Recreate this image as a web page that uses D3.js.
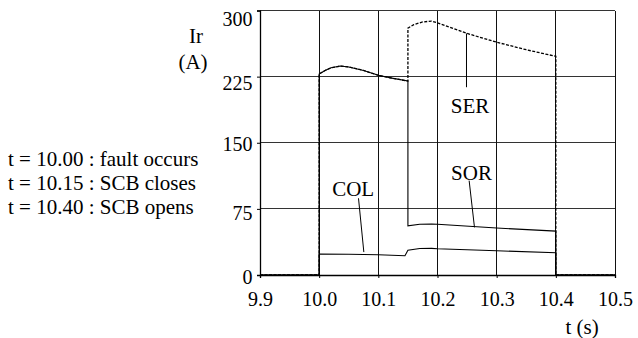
<!DOCTYPE html>
<html><head><meta charset="utf-8">
<script src="https://cdn.jsdelivr.net/npm/d3@7"></script>
<style>
html,body{margin:0;padding:0;background:#fff;}
</style></head>
<body><svg id="c" width="638" height="338"></svg>
<script>
// ---- data ----
const xTicks = [9.9, 10.0, 10.1, 10.2, 10.3, 10.4, 10.5];
const xTickLabels = ["9.9", "10.0", "10.1", "10.2", "10.3", "10.4", "10.5"];
const yTicks = [0, 75, 150, 225, 300];
const notes = ["t = 10.00 : fault occurs", "t = 10.15 : SCB closes", "t = 10.40 : SCB opens"];

const serT = [9.9, 10.0, 10.0, 10.01, 10.02, 10.036, 10.05, 10.075, 10.1, 10.125, 10.15, 10.15, 10.16, 10.175, 10.19, 10.2, 10.25, 10.3, 10.35, 10.4, 10.4, 10.5];
const serV = [0, 0, 228, 232, 235, 237, 236, 232, 226.5, 223, 220, 280, 284, 287, 288, 286, 274, 264, 255.5, 248, 0, 0];

const sorT = [9.9, 10.0, 10.0, 10.01, 10.02, 10.036, 10.05, 10.075, 10.1, 10.125, 10.15, 10.15, 10.17, 10.19, 10.2, 10.3, 10.4, 10.4, 10.5];
const sorV = [0, 0, 228, 232, 235, 237, 236, 232, 226.5, 223, 220, 55.8, 57.5, 57.8, 57.5, 53.3, 49.8, 0, 0];

const colT = [9.9, 10.0, 10.0, 10.05, 10.1, 10.145, 10.15, 10.17, 10.19, 10.2, 10.3, 10.4, 10.4, 10.5];
const colV = [0, 0, 23.8, 23.5, 22.9, 21.9, 28, 30, 30.2, 29.8, 27.5, 25.3, 0, 0];

// ---- layout ----
const svg = d3.select("#c");
const x = d3.scaleLinear().domain([9.9, 10.5]).range([260, 615]);
const y = d3.scaleLinear().domain([0, 300]).range([275, 10.5]);
const FF = '"Liberation Serif","Times New Roman",serif';
const TFS = "20px", LFS = "21px";
const yLabelShift = {0: 8, 75: 11, 150: 8, 225: 13, 300: 15};

// grid
const g = svg.append("g");
g.selectAll("line.h").data(yTicks.slice(1)).enter().append("line")
  .attr("x1", x(9.9)).attr("x2", x(10.5))
  .attr("y1", d => y(d)).attr("y2", d => y(d))
  .attr("stroke", "#333").attr("stroke-width", 1).attr("shape-rendering", "crispEdges");
g.selectAll("line.v").data(xTicks.slice(1)).enter().append("line")
  .attr("y1", y(0)).attr("y2", y(300))
  .attr("x1", d => x(d)).attr("x2", d => x(d))
  .attr("stroke", "#111").attr("stroke-width", 1).attr("shape-rendering", "crispEdges");

// axes
const xAxis = d3.axisBottom(x).tickValues(xTicks).tickFormat((d, i) => xTickLabels[i]).tickSize(3).tickPadding(14);
const yAxis = d3.axisLeft(y).tickValues(yTicks).tickSize(3).tickPadding(4.5);
const gx = svg.append("g").attr("transform", `translate(0,${y(0)})`).call(xAxis);
const gy = svg.append("g").attr("transform", `translate(${x(9.9)},0)`).call(yAxis);
[gx, gy].forEach(a => {
  a.select(".domain").attr("stroke", "#000").attr("stroke-width", 1.3);
  a.selectAll(".tick line").attr("stroke", "#000");
  a.selectAll("text").style("font-family", FF).style("font-size", TFS).attr("fill", "#000");
});
gy.selectAll(".tick text").attr("dy", null).attr("y", d => yLabelShift[d]);

// lines
const line = d3.line().x(d => x(d[0])).y(d => y(d[1]));
svg.append("path").datum(colT.map((t, i) => [t, colV[i]]))
  .attr("d", line).attr("fill", "none").attr("stroke", "#000").attr("stroke-width", 1.1);
svg.append("path").datum(sorT.map((t, i) => [t, sorV[i]]))
  .attr("d", line).attr("fill", "none").attr("stroke", "#000").attr("stroke-width", 1.1);
svg.append("path").datum(serT.map((t, i) => [t, serV[i]]))
  .attr("d", line).attr("fill", "none").attr("stroke", "#000").attr("stroke-width", 1.3)
  .attr("stroke-dasharray", "3,1.5");

function txt(s, tx, ty, anchor) {
  return svg.append("text").attr("x", tx).attr("y", ty).attr("text-anchor", anchor || "middle")
    .style("font-family", FF).style("font-size", LFS).attr("fill", "#000").text(s);
}
// labels with leaders
function label(s, lx, ly, x1, y1, x2, y2) {
  txt(s, lx, ly);
  svg.append("line").attr("x1", x1).attr("y1", y1).attr("x2", x2).attr("y2", y2).attr("stroke", "#000").attr("stroke-width", 1);
}
label("SER", x(10.255), y(184), x(10.249), y(274), x(10.249), y(213));
label("SOR", x(10.2575), y(108), x(10.2535), y(107), x(10.2625), y(54));
label("COL", x(10.0575), y(90), x(10.0665), y(87), x(10.0755), y(26));

// titles
txt("Ir", 196, 43);
txt("(A)", 193, 69);
txt("t (s)", 582, 334);
// notes
notes.forEach((n, i) => txt(n, 8, 166 + i * 24, "start"));
</script></body></html>
